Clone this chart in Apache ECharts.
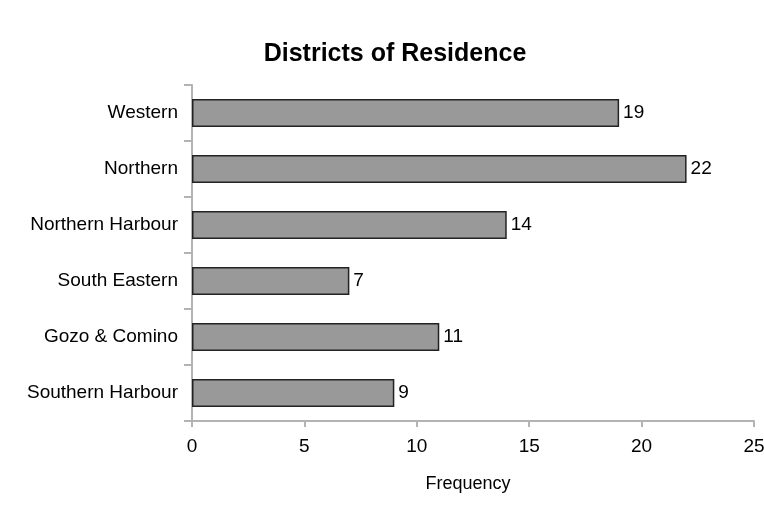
<!DOCTYPE html>
<html>
<head>
<meta charset="utf-8">
<script src="https://cdn.jsdelivr.net/npm/echarts@6/dist/echarts.min.js"></script>
<style>
  html, body { margin: 0; padding: 0; background: #fff; }
  #chart { width: 764px; height: 516px; }
</style>
</head>
<body>
<div id="chart"></div>
<script>
// categories listed bottom to top (ECharts category y-axis starts at the bottom)
const districts = ['Southern Harbour', 'Gozo & Comino', 'South Eastern', 'Northern Harbour', 'Northern', 'Western'];
const frequency = [9, 11, 7, 14, 22, 19];
const xTicks = { min: 0, max: 25, interval: 5 };

const FONT = '"Liberation Sans", Arial, sans-serif';
const axisGray = '#b3b3b3';

const chart = echarts.init(document.getElementById('chart'));
chart.setOption({
  backgroundColor: '#fff',
  animation: false,
  title: {
    text: 'Districts of Residence',
    left: 390,
    textAlign: 'center',
    top: 37,
    textStyle: { fontFamily: FONT, fontSize: 25, fontWeight: 'bold', color: '#000' },
  },
  grid: { left: 192, right: 10, top: 85, bottom: 95, containLabel: false, outerBoundsMode: 'none' },
  xAxis: {
    type: 'value',
    min: xTicks.min,
    max: xTicks.max,
    interval: xTicks.interval,
    name: 'Frequency',
    nameLocation: 'middle',
    nameGap: 54,
    nameTextStyle: { fontFamily: FONT, fontSize: 18, color: '#000', padding: [0, 10, 0, 0] },
    axisLine: { show: true, lineStyle: { color: axisGray, width: 2 } },
    axisTick: { show: true, length: 6, lineStyle: { color: axisGray, width: 2 } },
    axisLabel: { fontFamily: FONT, fontSize: 19, color: '#000', margin: 16 },
    splitLine: { show: false },
  },
  yAxis: {
    type: 'category',
    data: districts,
    axisLine: { show: true, lineStyle: { color: axisGray, width: 2 } },
    axisTick: { show: true, length: 8, lineStyle: { color: axisGray, width: 2 } },
    axisLabel: { fontFamily: FONT, fontSize: 19, color: '#000', margin: 14, padding: [4, 0, 0, 0] },
    splitLine: { show: false },
  },
  series: [{
    type: 'bar',
    data: frequency,
    barWidth: '50%',
    itemStyle: { color: '#999999', borderColor: '#222', borderWidth: 1.5 },
    label: {
      show: true,
      position: 'right',
      distance: 4,
      fontFamily: FONT,
      fontSize: 19,
      color: '#000',
      padding: [4, 0, 0, 0],
    },
  }],
});
</script>
</body>
</html>
